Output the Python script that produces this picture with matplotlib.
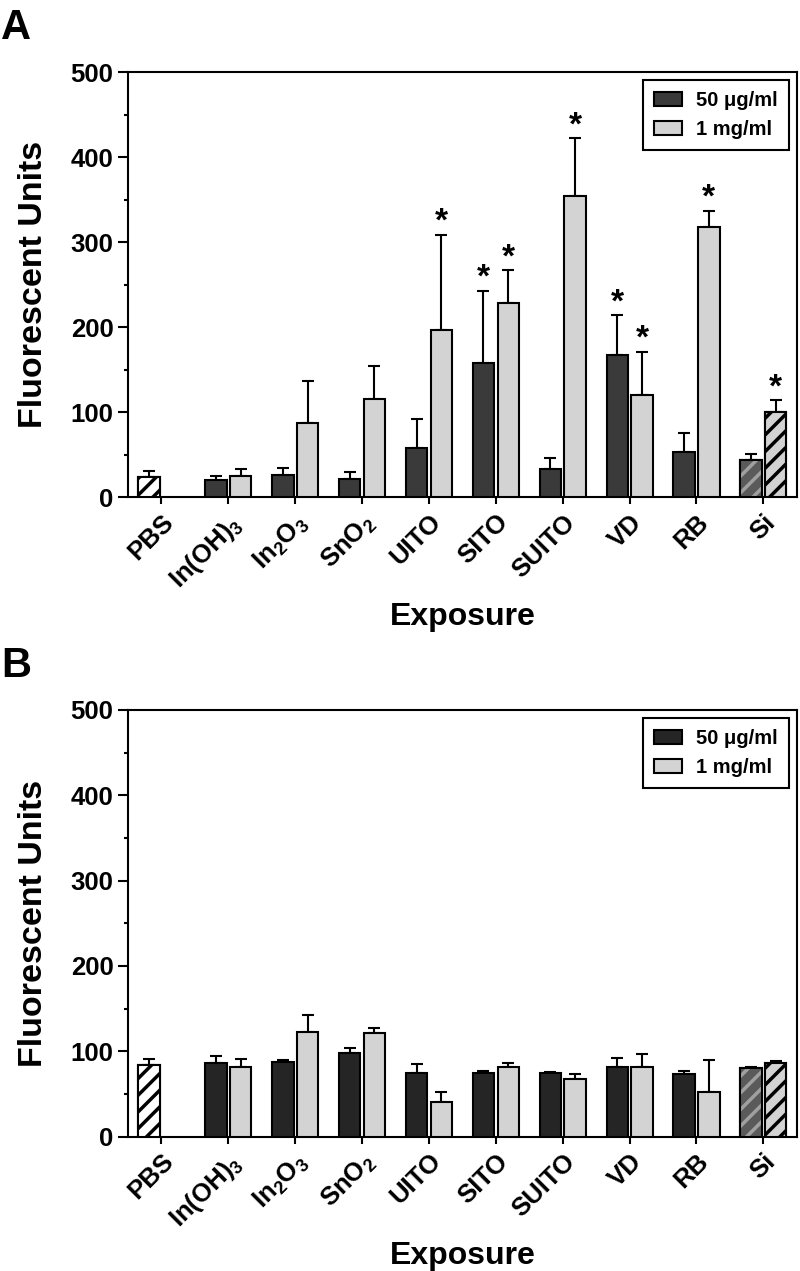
import numpy as np
import matplotlib
matplotlib.use('Agg')
import matplotlib.pyplot as plt
from matplotlib.patches import Patch

plt.rcParams['font.family'] = ['Liberation Sans', 'DejaVu Sans']
plt.rcParams['font.weight'] = 'bold'
plt.rcParams['axes.labelweight'] = 'bold'
plt.rcParams['mathtext.fontset'] = 'custom'
plt.rcParams['mathtext.rm'] = 'Liberation Sans'
plt.rcParams['hatch.linewidth'] = 2.5

## exposure groups (PBS sits in the first slot only)
cats = ['PBS', 'In(OH)$\\mathregular{_3}$', 'In$\\mathregular{_2}$O$\\mathregular{_3}$',
        'SnO$\\mathregular{_2}$', 'UITO', 'SITO', 'SUITO', 'VD', 'RB', 'Si']

## panel A, values
a_low      = [24, 20, 26, 22, 58, 158, 34, 168, 53, 44]
a_low_err  = [7, 5, 9, 8, 34, 85, 12, 46, 23, 7]
a_high     = [np.nan, 25, 87, 116, 197, 229, 354, 121, 318, 101]
a_high_err = [0, 9, 50, 39, 112, 38, 68, 50, 19, 13]
a_star_low  = [0, 0, 0, 0, 0, 1, 0, 1, 0, 0]
a_star_high = [0, 0, 0, 0, 1, 1, 1, 1, 1, 1]

## panel B
b_low      = [84, 86, 87, 98, 75, 74, 75, 82, 73, 80]
b_low_err  = [7, 8, 3, 6, 10, 3, 1, 10, 4, 2]
b_high     = [np.nan, 82, 122, 121, 41, 81, 68, 82, 52, 86]
b_high_err = [0, 9, 20, 6, 11, 5, 5, 15, 38, 3]
b_star_low  = [0] * 10
b_star_high = [0] * 10

LIGHT = '#d3d3d3'
W = 0.32
OFF = 0.185


def panel(ax, low, low_err, high, high_err, s_low, s_high, dark):
    x = np.arange(len(cats))
    low = np.array(low, float)
    high = np.array(high, float)
    cols_low = [dark] * len(x)
    cols_low[0] = 'white'
    cols_low[-1] = '#5a5a5a'
    cols_high = [LIGHT] * len(x)

    ax.bar(x - OFF, low, W, color=cols_low, edgecolor='k', lw=1.5, zorder=3)
    ax.bar(x + OFF, high, W, color=cols_high, edgecolor='k', lw=1.5, zorder=3)

    ## hatched controls: PBS and Si
    ax.bar(x[0] - OFF, low[0], W, color='white', hatch='//', edgecolor='k', lw=0, zorder=4)
    ax.bar(x[-1] - OFF, low[-1], W, color='#5a5a5a', hatch='//', edgecolor='#a0a0a0', lw=0, zorder=4)
    ax.bar(x[-1] + OFF, high[-1], W, color=LIGHT, hatch='//', edgecolor='k', lw=0, zorder=4)
    for xx, h in [(x[0] - OFF, low[0]), (x[-1] - OFF, low[-1]), (x[-1] + OFF, high[-1])]:
        ax.bar(xx, h, W, fill=False, edgecolor='k', lw=1.5, zorder=5)

    z = np.zeros(len(x))
    ax.errorbar(x - OFF, low, yerr=[z, low_err], fmt='none', ecolor='k',
                elinewidth=1.5, capsize=4, capthick=1.5, zorder=2)
    ax.errorbar(x + OFF, high, yerr=[z, high_err], fmt='none', ecolor='k',
                elinewidth=1.5, capsize=4, capthick=1.5, zorder=2)

    for i in range(len(x)):
        if s_low[i]:
            ax.annotate('*', (x[i] - OFF, low[i] + low_err[i]), xytext=(0, -2),
                        textcoords='offset points', ha='center', va='bottom', fontsize=24)
        if s_high[i]:
            ax.annotate('*', (x[i] + OFF, high[i] + high_err[i]), xytext=(0, -2),
                        textcoords='offset points', ha='center', va='bottom', fontsize=24)

    ax.set_xlim(-0.5, len(x) - 0.5)
    ax.set_ylim(0, 500)
    ax.set_yticks(np.arange(0, 501, 100))
    ax.set_yticks(np.arange(50, 500, 100), minor=True)
    ax.set_xticks(x)
    ax.set_xticklabels(cats, rotation=45, ha='right', rotation_mode='anchor')
    ax.tick_params(axis='both', labelsize=18.5, width=1.5, direction='out')
    ax.tick_params(axis='y', which='major', length=7)
    ax.tick_params(axis='y', which='minor', length=3, width=1.5)
    ax.tick_params(axis='x', length=5, pad=4)
    for s in ax.spines.values():
        s.set_linewidth(1.5)
    ax.set_ylabel('Fluorescent Units', fontsize=24.5)
    ax.yaxis.set_label_coords(-0.118, 0.5)
    ax.set_xlabel('Exposure', fontsize=23, labelpad=6)

    handles = [Patch(facecolor=dark, edgecolor='k', lw=1.5),
               Patch(facecolor=LIGHT, edgecolor='k', lw=1.5)]
    leg = ax.legend(handles, ['50 \u03bcg/ml', '1 mg/ml'], loc='upper right', fontsize=14.5,
                    fancybox=False, edgecolor='k', framealpha=1, handlelength=1.4,
                    handleheight=0.7, handletextpad=0.7, borderpad=0.55,
                    borderaxespad=0.4, labelspacing=0.5)
    leg.get_frame().set_linewidth(1.5)


fig = plt.figure(figsize=(8, 12.71), dpi=100)
axA = fig.add_axes([0.16, 0.6086, 0.836, 0.3347])
axB = fig.add_axes([0.16, 0.1058, 0.836, 0.3356])

panel(axA, a_low, a_low_err, a_high, a_high_err, a_star_low, a_star_high, '#3a3a3a')
panel(axB, b_low, b_low_err, b_high, b_high_err, b_star_low, b_star_high, '#252525')

fig.text(0.001, 0.994, 'A', fontsize=30, va='top', ha='left')
fig.text(0.001, 0.492, 'B', fontsize=30, va='top', ha='left')

fig.savefig('out.png', dpi=100)
